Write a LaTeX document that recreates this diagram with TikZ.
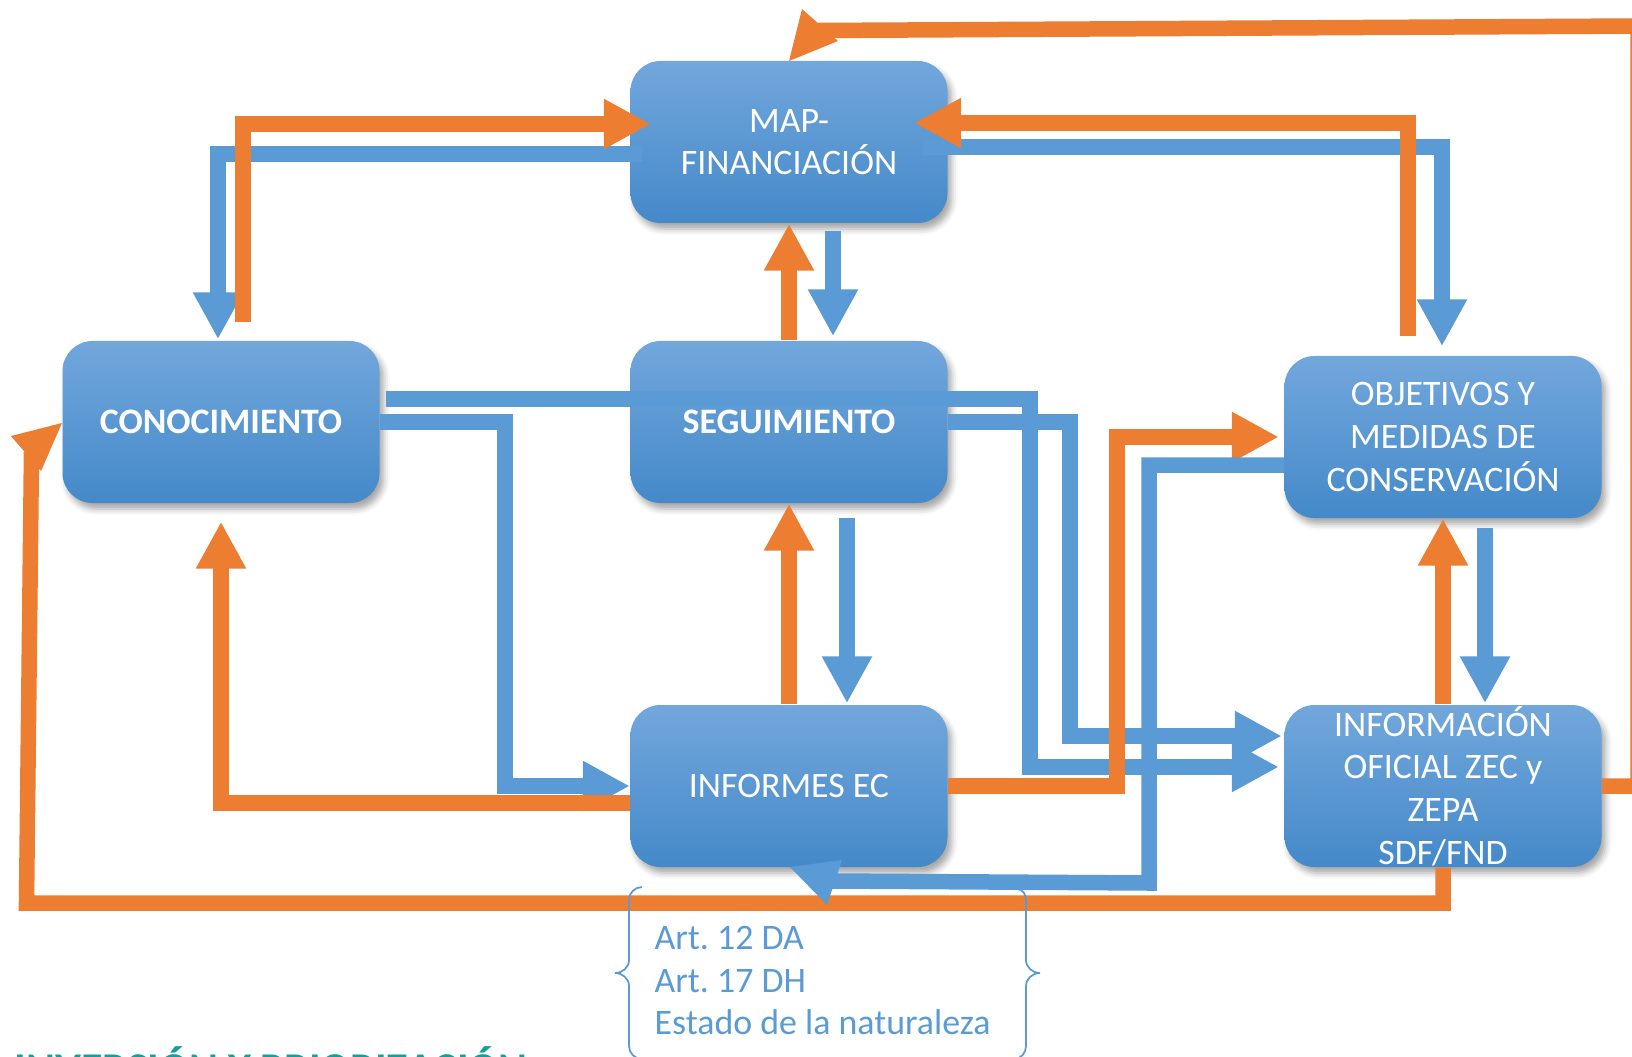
\documentclass[tikz,border=0pt]{standalone}
\usepackage{fontspec}
\setmainfont{Carlito}
\usetikzlibrary{arrows.meta,shadows.blur}
\definecolor{flowOrange}{RGB}{237,125,49}
\definecolor{flowBlue}{RGB}{91,155,213}
\definecolor{boxTop}{RGB}{114,167,220}
\definecolor{boxBottom}{RGB}{68,137,201}
\definecolor{titleTeal}{RGB}{23,158,156}
\frenchspacing
\begin{document}
\begin{tikzpicture}[
    box/.style={rounded corners=3mm, minimum width=3.17cm, minimum height=1.62cm,
      inner sep=0pt, top color=boxTop, bottom color=boxBottom, text=white,
      align=center, font=\fontsize{10.2}{12.1}\selectfont,
      blur shadow={shadow xshift=0.4mm, shadow yshift=-0.6mm,
        shadow blur radius=0.6mm, shadow opacity=35}},
    orange line/.style={draw=flowOrange, line width=1.55mm},
    blue line/.style={draw=flowBlue, line width=1.55mm},
    orange arrow/.style={orange line, -{Triangle[length=4.7mm,width=4.7mm]}},
    blue arrow/.style={blue line, -{Triangle[length=4.7mm,width=4.7mm]}},
  ]
  \useasboundingbox (0,0) rectangle (16.32,10.56);
  \node [box] (MAP) at (7.89,9.14) {MAP-\\FINANCIACIÓN};
  \node [box, font=\bfseries\fontsize{10.2}{12.1}\selectfont] (Conocimiento) at (2.21,6.34) {CONOCIMIENTO};
  \node [box, font=\bfseries\fontsize{10.2}{12.1}\selectfont] (Seguimiento) at (7.89,6.34) {SEGUIMIENTO};
  \node [box] (Informes) at (7.89,2.70) {INFORMES EC};
  \node [box] (Objetivos) at (14.43,6.19) {OBJETIVOS Y\\MEDIDAS DE\\CONSERVACIÓN};
  \node [box] (Informacion) at (14.43,2.70) {INFORMACIÓN\\OFICIAL ZEC y\\ZEPA\\SDF/FND};
  \draw [blue arrow] ([xshift=1.2mm,yshift=-1.2mm]MAP.west) -| ([xshift=-0.3mm,yshift=0.1mm]Conocimiento.north);
  \draw [blue arrow] ([xshift=4.4mm,yshift=-0.7mm]MAP.south) -- ([xshift=4.4mm,yshift=0.4mm]Seguimiento.north);
  \draw [blue arrow] ([xshift=-2.5mm,yshift=-0.5mm]MAP.east) -| ([xshift=-0.1mm,yshift=0.9mm]Objetivos.north);
  \draw [blue arrow]
    ([xshift=0.6mm,yshift=2.3mm]Conocimiento.east)
    -- ++(6.44,0)
    |- ([xshift=-0.5mm,yshift=1.9mm]Informacion.west)
  ;
  \draw [blue arrow] (Seguimiento.east) -- ++(1.22,0) |- ([xshift=-0.2mm,yshift=5mm]Informacion.west);
  \draw [blue arrow] (Conocimiento.east) -- ++(1.25,0) |- (Informes.west);
  \draw [blue arrow] ([xshift=5.8mm,yshift=-1.4mm]Seguimiento.south) -- ([xshift=5.8mm,yshift=0.1mm]Informes.north);
  \draw [blue arrow] ([xshift=4.2mm,yshift=-0.9mm]Objetivos.south) -- ([xshift=4.2mm,yshift=0.1mm]Informacion.north);
  \draw [orange arrow] ([xshift=2.2mm,yshift=1.8mm]Conocimiento.north) |- ([xshift=2.1mm,yshift=1.8mm]MAP.west);
  \draw [orange arrow] (Seguimiento.north) -- (MAP.south);
  \draw [orange arrow] ([xshift=-3.5mm,yshift=1.9mm]Objetivos.north) |- ([xshift=-3.4mm,yshift=1.9mm]MAP.east);
  \draw [orange arrow] (Informes.north) -- (Seguimiento.south);
  \draw [orange arrow] ([yshift=-1.7mm]Informes.west) -| ([yshift=-1.8mm]Conocimiento.south);
  \draw [orange arrow] (Informes.east) -- ++(1.69,0) |- ([xshift=-0.5mm]Objetivos.west);
  \draw [orange arrow] (Informacion.north) -- (Objetivos.south);
  \coordinate (Left end) at (0.315,6.04);
  \coordinate (Left tip) at (0.62,6.33);
  \draw [orange line] (Informacion.south) |- (0.265,1.53) -- (Left end);
  \fill [flowOrange] (0.11,6.20) -- (Left tip) -- (0.41,5.85) -- cycle;
  \coordinate (Top end) at (8.18,10.255);
  \coordinate (Top tip) at (8.02,10.47);
  \draw [orange line] (Informacion.east) -| (16.38,10.30) -- (Top end);
  \fill [flowOrange] (7.89,9.95) -- (Top tip) -- (8.38,10.15) -- cycle;
  \coordinate (Bottom end) at (8.32,1.75);
  \coordinate (Bottom tip) at (8.27,1.51);
  \draw [blue line] ([yshift=-2.8mm]Objetivos.west) -| (11.49,1.73) -- (Bottom end);
  \fill [flowBlue] (7.90,1.89) -- (Bottom tip) -- (8.42,1.96) -- cycle;
  \draw [flowBlue, line width=0.5pt]
    (6.42,1.69) to [out=180,in=90] (6.29,1.56)
    -- (6.29,0.96) to [out=-90,in=0] (6.15,0.83)
    to [out=0,in=90] (6.29,0.70)
    -- (6.29,0.10) to [out=-90,in=180] (6.42,-0.03)
  ;
  \draw [flowBlue, line width=0.5pt]
    (10.17,1.67) to [out=0,in=90] (10.26,1.56)
    -- (10.26,0.96) to [out=-90,in=180] (10.40,0.83)
    to [out=180,in=90] (10.26,0.70)
    -- (10.26,0.10) to [out=-90,in=0] (10.14,-0.03)
  ;
  \node [flowBlue, anchor=north west, inner sep=0pt, align=left,
    font=\fontsize{10.2}{12}\selectfont] (Articulos) at (6.54,1.30)
    {Art. 12 DA\\Art. 17 DH\\Estado de la naturaleza};
  \node [titleTeal, anchor=base west, inner sep=0pt,
    font=\bfseries\fontsize{12.5}{15}\selectfont] (Titulo) at (0.14,-0.275)
    {INVERSIÓN Y PRIORIZACIÓN};
\end{tikzpicture}
\end{document}
